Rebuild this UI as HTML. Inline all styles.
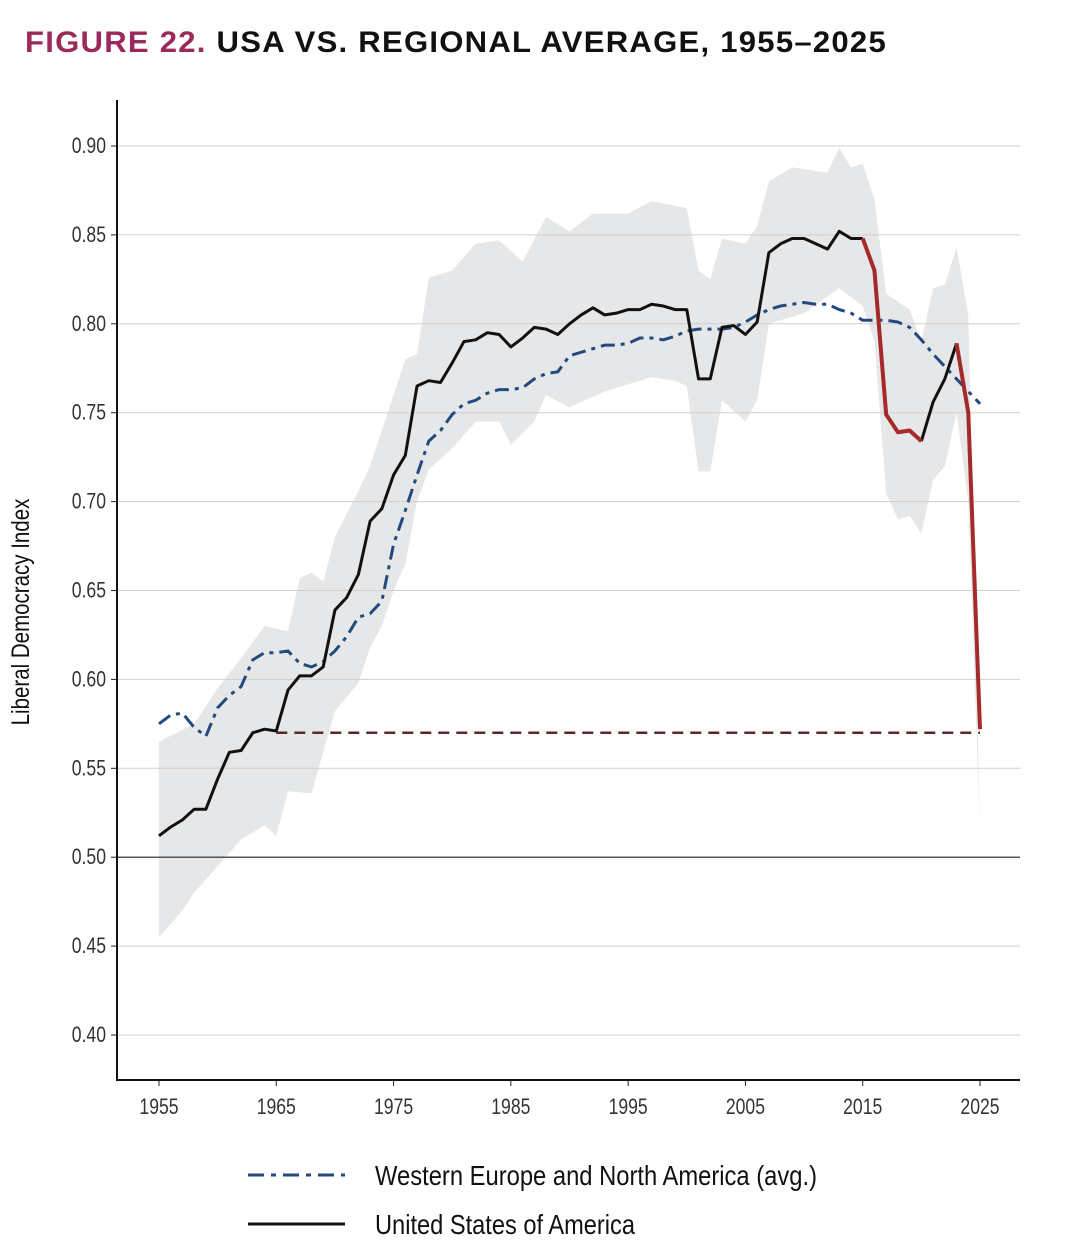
<!DOCTYPE html>
<html><head><meta charset="utf-8"><style>
body{margin:0;background:#fff;}
svg{display:block;font-family:"Liberation Sans",sans-serif;}
</style></head><body>
<svg id="s" width="1080" height="1258" xmlns="http://www.w3.org/2000/svg">
<text x="25" y="52" font-size="30" font-weight="bold" letter-spacing="1.2" textLength="862" lengthAdjust="spacingAndGlyphs"><tspan fill="#9b2a5a">FIGURE 22.</tspan><tspan fill="#111"> USA VS. REGIONAL AVERAGE, 1955–2025</tspan></text>
<g id="g"></g>
</svg>
<script>
const g=document.getElementById('g');
const X=y=>159+(y-1955)*821/70, Y=v=>146+(0.90-v)/0.05*88.9;
let h='';
const up=[[1955,.565],[1958,.575],[1960,.595],[1962,.612],[1964,.630],[1966,.627],[1967,.657],[1968,.66],[1969,.655],[1970,.680],[1972,.706],[1973,.72],[1974,.740],[1975,.760],[1976,.780],[1977,.783],[1978,.826],[1980,.830],[1982,.845],[1984,.847],[1986,.835],[1988,.860],[1990,.852],[1992,.862],[1995,.862],[1997,.869],[2000,.865],[2001,.830],[2002,.825],[2003,.848],[2005,.845],[2006,.855],[2007,.880],[2009,.888],[2012,.885],[2013,.899],[2014,.888],[2015,.890],[2016,.870],[2017,.817],[2019,.808],[2020,.790],[2021,.820],[2022,.822],[2023,.843],[2024,.805],[2025,.515]];
const lo=[[1955,.455],[1957,.470],[1958,.480],[1960,.495],[1962,.510],[1964,.518],[1965,.512],[1966,.537],[1968,.536],[1970,.582],[1972,.598],[1973,.618],[1974,.630],[1975,.650],[1976,.665],[1977,.700],[1978,.718],[1980,.730],[1982,.745],[1984,.745],[1985,.732],[1987,.745],[1988,.760],[1990,.753],[1993,.762],[1997,.770],[1999,.768],[2000,.765],[2001,.717],[2002,.717],[2003,.757],[2005,.745],[2006,.757],[2007,.800],[2010,.806],[2013,.820],[2015,.810],[2016,.790],[2017,.705],[2018,.690],[2019,.692],[2020,.682],[2021,.712],[2022,.720],[2023,.750],[2024,.700],[2025,.515]];
h+='<path fill="#e6e7e8" d="M'+up.map(p=>X(p[0])+','+Y(p[1])).join('L')+'L'+lo.slice().reverse().map(p=>X(p[0])+','+Y(p[1])).join('L')+'Z"/>';
for(let i=0;i<=10;i++){const v=0.40+i*0.05;const y=Y(v);
h+=`<line x1="117" x2="1020" y1="${y}" y2="${y}" stroke="${i==2?'#222':'#cfcfcf'}" stroke-width="${i==2?1.2:1}"/>`;
h+=`<line x1="111" x2="117" y1="${y}" y2="${y}" stroke="#222"/>`;
h+=`<text x="106" y="${y+7}" font-size="22" text-anchor="end" fill="#333" transform="translate(${106},0) scale(0.8,1) translate(${-106},0)">${v.toFixed(2)}</text>`;}
for(let yr=1955;yr<=2025;yr+=10){const x=X(yr);
h+=`<line x1="${x}" x2="${x}" y1="1080" y2="1086" stroke="#222"/>`;
h+=`<text x="${x}" y="1114" font-size="22" text-anchor="middle" fill="#333" transform="translate(${x},0) scale(0.8,1) translate(${-x},0)">${yr}</text>`;}
h+='<line x1="117" x2="117" y1="100" y2="1081" stroke="#111" stroke-width="2"/><line x1="116" x2="1020" y1="1080" y2="1080" stroke="#111" stroke-width="2"/>';
h+='<text transform="translate(29,612) rotate(-90) scale(0.82,1)" font-size="25" text-anchor="middle" fill="#111">Liberal Democracy Index</text>';
const reg=[.575,.580,.581,.573,.568,.584,.591,.596,.611,.615,.615,.616,.609,.607,.610,.616,.624,.635,.637,.644,.676,.695,.715,.734,.740,.749,.755,.757,.761,.763,.763,.764,.769,.772,.773,.782,.784,.786,.788,.788,.789,.792,.792,.791,.793,.796,.797,.797,.797,.798,.801,.805,.808,.810,.811,.812,.811,.811,.808,.806,.802,.802,.802,.801,.798,.791,.783,.776,.769,.762,.755];
const us=[.512,.517,.521,.527,.527,.544,.559,.560,.570,.572,.571,.594,.602,.602,.607,.639,.646,.659,.689,.696,.715,.726,.765,.768,.767,.778,.790,.791,.795,.794,.787,.792,.798,.797,.794,.800,.805,.809,.805,.806,.808,.808,.811,.810,.808,.808,.769,.769,.798,.799,.794,.801,.840,.845,.848,.848,.845,.842,.852,.848,.848,.830,.749,.739,.740,.734,.756,.769,.789,.750,.572];
const pl=(arr,a,b)=>{let s='';for(let i=a;i<=b;i++)s+=(i==a?'M':'L')+X(1955+i)+','+Y(arr[i]);return s;};
h+=`<path d="${pl(reg,0,70)}" fill="none" stroke="#234a7e" stroke-width="3" stroke-dasharray="14,6,4,6"/>`;
h+=`<line x1="${X(1965)}" x2="${X(2025)}" y1="${Y(.57)}" y2="${Y(.57)}" stroke="#5a2a2a" stroke-width="2.5" stroke-dasharray="11,7"/>`;
h+=`<path d="${pl(us,0,60)}" fill="none" stroke="#111" stroke-width="3" stroke-linejoin="round"/>`;
h+=`<path d="${pl(us,65,68)}" fill="none" stroke="#111" stroke-width="3" stroke-linejoin="round"/>`;
h+=`<path d="${pl(us,60,65)}" fill="none" stroke="#a52a2a" stroke-width="4" stroke-linejoin="round"/>`;
h+=`<path d="${pl(us,68,70)}" fill="none" stroke="#a52a2a" stroke-width="4" stroke-linejoin="round"/>`;
h+='<line x1="248" x2="345" y1="1175" y2="1175" stroke="#234a7e" stroke-width="3" stroke-dasharray="16,7,5,7"/>';
h+='<line x1="248" x2="345" y1="1224" y2="1224" stroke="#111" stroke-width="3"/>';
h+='<text x="375" y="1185" font-size="28" fill="#111" textLength="442" lengthAdjust="spacingAndGlyphs">Western Europe and North America (avg.)</text>';
h+='<text x="375" y="1234" font-size="28" fill="#111" textLength="260" lengthAdjust="spacingAndGlyphs">United States of America</text>';
g.innerHTML=h;
</script>
</body></html>
